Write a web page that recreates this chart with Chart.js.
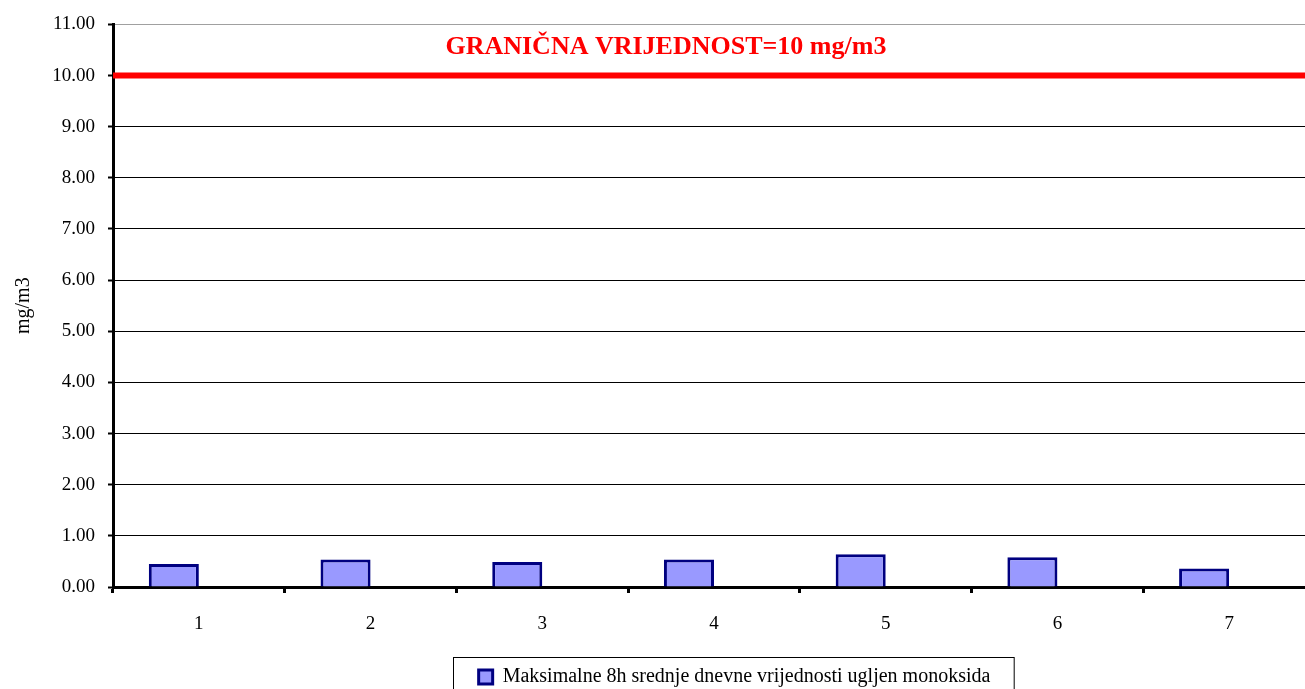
<!DOCTYPE html>
<html>
<head>
<meta charset="utf-8">
<script src="https://cdn.jsdelivr.net/npm/chart.js@4.4.1/dist/chart.umd.min.js"></script>
<style>
  html, body { margin: 0; padding: 0; background: #fff; overflow: hidden; }
  #wrap { width: 1316px; height: 689px; }
</style>
</head>
<body>
<div id="wrap"><canvas id="chart"></canvas></div>
<script>
// ===== Data =====
const categories = ["1", "2", "3", "4", "5", "6", "7"];
const coValues = [0.45, 0.54, 0.49, 0.54, 0.64, 0.58, 0.36];
const spacerValues = [0, 0, 0, 0, 0, 0, 0];
const LIMIT = 10;
const LIMIT_LABEL = "GRANIČNA VRIJEDNOST=10 mg/m3";
const SERIES_LABEL = "Maksimalne 8h srednje dnevne vrijednosti ugljen monoksida";
const yTicks = [0, 1, 2, 3, 4, 5, 6, 7, 8, 9, 10, 11];

const FONT = "'Liberation Serif', 'Times New Roman', serif";

// limit line + caption + legend frame
const limitPlugin = {
  id: "limit",
  afterLayout(chart) {
    // legend sits off-centre in the original
    const lg = chart.legend;
    if (!lg) return;
    lg.left += 77;
    lg.right += 77;
    lg.top += 8;
    lg.bottom += 8;
  },
  afterDatasetsDraw(chart) {
    const { ctx, chartArea, scales } = chart;
    const y = scales.y.getPixelForValue(LIMIT);
    ctx.save();
    ctx.strokeStyle = "#ff0000";
    ctx.lineWidth = 6;
    ctx.beginPath();
    ctx.moveTo(chartArea.left, y);
    ctx.lineTo(chartArea.right, y);
    ctx.stroke();

    ctx.fillStyle = "#ff0000";
    ctx.font = "bold 26px " + FONT;
    ctx.textAlign = "center";
    ctx.textBaseline = "middle";
    ctx.fillText(LIMIT_LABEL, chartArea.left + chartArea.width * 0.46, scales.y.getPixelForValue(10.55));
    ctx.restore();
  },
  afterDraw(chart) {
    const lg = chart.legend;
    if (!lg) return;
    const ctx = chart.ctx;
    const item = lg.legendHitBoxes[0];
    if (!item) return;
    ctx.save();
    ctx.strokeStyle = "#000";
    ctx.lineWidth = 1;
    ctx.strokeRect(Math.round(item.left - 26) + 0.5, Math.round(item.top - 10) + 0.5, item.width + 49, 60);
    ctx.restore();
  },
};

new Chart(document.getElementById("chart"), {
  type: "bar",
  data: {
    labels: categories,
    datasets: [
      {
        label: SERIES_LABEL,
        data: coValues,
        backgroundColor: "#9999ff",
        borderColor: "#000080",
        borderWidth: 3,
      },
      {
        label: "",
        data: spacerValues,
        backgroundColor: "rgba(0,0,0,0)",
        borderWidth: 0,
      },
    ],
  },
  options: {
    responsive: true,
    maintainAspectRatio: false,
    animation: false,
    devicePixelRatio: 1,
    categoryPercentage: 0.583,
    barPercentage: 1.0,
    layout: { padding: { top: 16, right: 1, left: 0, bottom: 0 } },
    plugins: {
      legend: {
        position: "bottom",
        labels: {
          color: "#000",
          font: { family: FONT, size: 20 },
          boxWidth: 14,
          boxHeight: 14,
          padding: 14,
          filter: (item) => item.text !== "",
        },
      },
      tooltip: { enabled: false },
    },
    scales: {
      x: {
        grid: {
          drawOnChartArea: false,
          drawTicks: true,
          tickLength: 6,
          tickWidth: 3,
          color: "#000",
        },
        border: { display: true, color: "#000", width: 3 },
        ticks: {
          color: "#000",
          font: { family: FONT, size: 19 },
          padding: 20,
        },
        afterFit: (scale) => { scale.height = 58; },
      },
      y: {
        min: 0,
        max: 11,
        afterBuildTicks: (scale) => { scale.ticks = yTicks.map((v) => ({ value: v })); },
        grid: {
          color: (c) => (c.tick && c.tick.value === 11 ? "#a0a0a0" : "#000"),
          lineWidth: 1,
          tickLength: 5,
          tickColor: "#000",
          tickWidth: 2,
        },
        border: { display: true, color: "#000", width: 3 },
        ticks: {
          color: "#000",
          font: { family: FONT, size: 19 },
          padding: 13,
          callback: (v) => Number(v).toFixed(2),
        },
        title: {
          display: true,
          text: "mg/m3",
          color: "#000",
          font: { family: FONT, size: 20 },
          padding: { top: 12, bottom: 0 },
        },
        afterFit: (scale) => { scale.width = 113; },
      },
    },
  },
  plugins: [limitPlugin],
});
</script>
</body>
</html>
